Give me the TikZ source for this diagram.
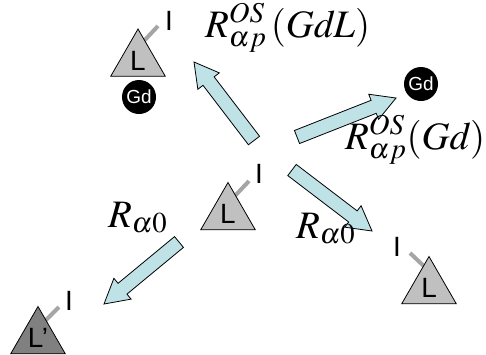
\documentclass[tikz,border=0pt]{standalone}
\usepackage{mathptmx}
\usepackage[no-math]{fontspec}
\setmainfont{Liberation Sans}
\usetikzlibrary{shapes.geometric,calc}
\definecolor{arrowfill}{RGB}{190,226,230}
\definecolor{trilight}{RGB}{192,192,192}
\definecolor{tridark}{RGB}{128,128,128}
\definecolor{stickgray}{RGB}{165,165,165}
\tikzset{
  tri/.style={regular polygon, regular polygon sides=3, minimum size=63bp, inner sep=0pt, draw=black, line width=0.8bp, font=\fontsize{28}{28}\selectfont},
  trilt/.style={tri, fill=trilight},
  tridk/.style={tri, fill=tridark},
  gdball/.style={circle, fill=black, minimum size=34bp, inner sep=0pt, text=white, font=\fontsize{19}{19}\selectfont},
  ilbl/.style={inner sep=0pt, font=\fontsize{28}{28}\selectfont},
  stick/.style={draw=stickgray, line width=4bp},
  barrow/.style={draw=black, fill=arrowfill, line width=0.8bp, line join=miter},
  mlbl/.style={inner sep=0pt, anchor=base west, font=\fontsize{39}{42}\selectfont}
}
\newcommand\blkarrow[2]{%
  \coordinate (#2-b) at ($(#2)!24bp!(#1)$);
  \draw[barrow] ($(#1)!7bp!90:(#2)$) -- ($(#2-b)!7bp!90:(#2)$) -- ($(#2-b)!13.5bp!90:(#2)$) -- (#2)
    -- ($(#2-b)!13.5bp!-90:(#2)$) -- ($(#2-b)!7bp!-90:(#2)$) -- ($(#1)!7bp!-90:(#2)$) -- cycle;}
\begin{document}
\begin{tikzpicture}[x=1bp,y=-1bp]
\useasboundingbox (0,0) rectangle (486,354);
% sticks (behind triangles)
\coordinate (s1a) at (142,43); \coordinate (s1b) at (158,26);
\coordinate (s2a) at (232,199); \coordinate (s2b) at (249,181);
\coordinate (s3a) at (428,270); \coordinate (s3b) at (410,253);
\coordinate (s4a) at (42,324); \coordinate (s4b) at (59,307);
\draw[stick] (s1a) -- (s1b);
\draw[stick] (s2a) -- (s2b);
\draw[stick] (s3a) -- (s3b);
\draw[stick] (s4a) -- (s4b);
% triangles
\node[trilt] (t1) at (138,60.5) {L};
\node[trilt] (t2) at (228,214) {L};
\node[trilt] (t3) at (429,288) {L};
\node[tridk] (t4) at (38,338) {L'};
% I labels
\node[ilbl] (i1) at (169,21) {I};
\node[ilbl] (i2) at (259,174) {I};
\node[ilbl] (i3) at (397,247) {I};
\node[ilbl] (i4) at (69,301) {I};
% Gd balls
\node[gdball] (gdl) at (139,97) {Gd};
\node[gdball] (gdr) at (421,84) {Gd};
% block arrows
\coordinate (a1t) at (254,140.5); \coordinate (a1h) at (194,62);
\coordinate (a2t) at (297,137); \coordinate (a2h) at (396,98);
\coordinate (a3t) at (292,170); \coordinate (a3h) at (372,231);
\coordinate (a4t) at (179,242); \coordinate (a4h) at (104,304);
\blkarrow{a1t}{a1h}
\blkarrow{a2t}{a2h}
\blkarrow{a3t}{a3h}
\blkarrow{a4t}{a4h}
% rate labels
\node[mlbl] (r1) at (205,37) {$R^{\mathit{OS}}_{\alpha p}\,(\mathit{GdL})$};
\node[mlbl] (r2) at (345,149) {$R^{\mathit{OS}}_{\alpha p}(\mathit{Gd})$};
\node[mlbl] (r3) at (108,227) {$R_{\alpha 0}$};
\node[mlbl] (r4) at (296,238) {$R_{\alpha 0}$};
\end{tikzpicture}
\end{document}
